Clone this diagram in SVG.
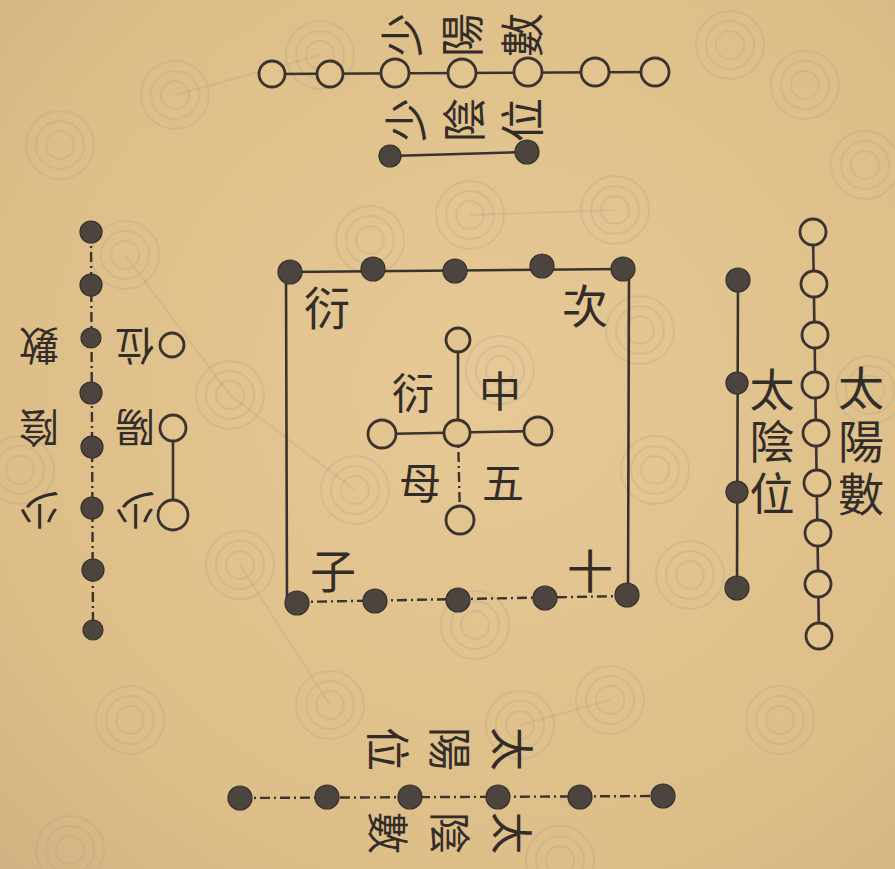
<svg xmlns="http://www.w3.org/2000/svg" width="895" height="869" viewBox="0 0 895 869">
<defs>
<radialGradient id="paper" cx="0.55" cy="0.45" r="0.8">
<stop offset="0" stop-color="#e6c996"/>
<stop offset="0.7" stop-color="#ddbe88"/>
<stop offset="1" stop-color="#cfb282"/>
</radialGradient>
<g id="ghost"><circle r="14"/><circle r="24"/><circle r="34"/></g>
</defs>
<style>
.ln{stroke:#3a332f;stroke-width:2.6;fill:none;stroke-linecap:round}
.dl{stroke:#3a332f;stroke-width:2.4;fill:none;stroke-dasharray:10 4 2 4}
.w{fill:#e2c48f;stroke:#3a332f;stroke-width:2.8}
.b{fill:#4b443f;stroke:#36302c;stroke-width:1.2}
.t{font-family:"Noto Sans CJK TC","Noto Sans CJK SC",serif;fill:#332d29;font-size:46px;text-anchor:middle;dominant-baseline:central}
.s{font-size:42px}
.v{writing-mode:vertical-rl}
.g{fill:none;stroke:#a99b86;stroke-opacity:.25;stroke-width:2}
</style>
<rect width="895" height="869" fill="url(#paper)"/>
<g id="show-through" class="g">
<use href="#ghost" x="175" y="95"/><use href="#ghost" x="60" y="145"/><use href="#ghost" x="320" y="55"/>
<use href="#ghost" x="730" y="45"/><use href="#ghost" x="805" y="85"/><use href="#ghost" x="865" y="165"/>
<use href="#ghost" x="470" y="215"/><use href="#ghost" x="615" y="210"/><use href="#ghost" x="125" y="255"/>
<use href="#ghost" x="370" y="240"/><use href="#ghost" x="230" y="395"/><use href="#ghost" x="355" y="490"/>
<use href="#ghost" x="500" y="370"/><use href="#ghost" x="655" y="470"/><use href="#ghost" x="640" y="330"/>
<use href="#ghost" x="240" y="565"/><use href="#ghost" x="475" y="625"/><use href="#ghost" x="690" y="575"/>
<use href="#ghost" x="130" y="720"/><use href="#ghost" x="330" y="705"/><use href="#ghost" x="520" y="725"/>
<use href="#ghost" x="610" y="700"/><use href="#ghost" x="780" y="720"/><use href="#ghost" x="70" y="850"/>
<use href="#ghost" x="560" y="860"/><use href="#ghost" x="20" y="470"/><use href="#ghost" x="870" y="390"/>
<path d="M175 95 L320 55 M470 215 L615 210 M230 395 L355 490 M240 565 L330 705 M520 725 L610 700 M125 255 L230 395"/>
</g>

<g id="connectors">
<line class="ln" x1="272" y1="74" x2="655" y2="72"/>
<line class="ln" x1="390" y1="156" x2="527" y2="152"/>
<line class="ln" x1="290" y1="272" x2="623" y2="269"/>
<line class="dl" x1="297" y1="602" x2="627" y2="596"/>
<line class="ln" x1="286" y1="272" x2="287" y2="603"/>
<line class="ln" x1="629" y1="270" x2="628" y2="596"/>
<line class="ln" x1="458" y1="340" x2="458" y2="432"/>
<line class="dl" x1="458" y1="432" x2="460" y2="520"/>
<line class="ln" x1="382" y1="434" x2="538" y2="431"/>
<line class="ln" x1="738" y1="280" x2="737" y2="588"/>
<line class="ln" x1="813" y1="232" x2="819" y2="636"/>
<line class="dl" x1="91" y1="232" x2="93" y2="630"/>
<line class="ln" x1="173" y1="428" x2="173" y2="515"/>
<line class="dl" x1="240" y1="798" x2="663" y2="796"/>
</g>

<g id="shaoyang-shu">
<circle class="w" cx="272" cy="74" r="13"/><circle class="w" cx="330" cy="74" r="13"/>
<circle class="w" cx="395" cy="73" r="14"/><circle class="w" cx="462" cy="73" r="14"/>
<circle class="w" cx="528" cy="72" r="14"/><circle class="w" cx="595" cy="72" r="14"/>
<circle class="w" cx="655" cy="72" r="14"/>
</g>
<g id="shaoyin-wei">
<circle class="b" cx="390" cy="156" r="11"/><circle class="b" cx="527" cy="152" r="12"/>
</g>
<g id="square">
<circle class="b" cx="290" cy="272" r="12"/><circle class="b" cx="373" cy="269" r="12"/>
<circle class="b" cx="455" cy="271" r="12"/><circle class="b" cx="542" cy="266" r="12"/>
<circle class="b" cx="623" cy="269" r="12"/>
<circle class="b" cx="297" cy="603" r="12"/><circle class="b" cx="375" cy="601" r="12"/>
<circle class="b" cx="458" cy="600" r="12"/><circle class="b" cx="545" cy="598" r="12"/>
<circle class="b" cx="627" cy="595" r="12"/>
</g>
<g id="center">
<circle class="w" cx="458" cy="340" r="12"/><circle class="w" cx="457" cy="433" r="13"/>
<circle class="w" cx="382" cy="434" r="14"/><circle class="w" cx="538" cy="431" r="14"/>
<circle class="w" cx="460" cy="520" r="14"/>
</g>
<g id="taiyin-wei">
<circle class="b" cx="738" cy="280" r="12"/><circle class="b" cx="737" cy="383" r="11"/>
<circle class="b" cx="737" cy="492" r="11"/><circle class="b" cx="737" cy="588" r="12"/>
</g>
<g id="taiyang-shu">
<circle class="w" cx="813" cy="232" r="13"/><circle class="w" cx="814" cy="284" r="13"/>
<circle class="w" cx="815" cy="335" r="13"/><circle class="w" cx="815" cy="385" r="13"/>
<circle class="w" cx="816" cy="433" r="13"/><circle class="w" cx="817" cy="483" r="13"/>
<circle class="w" cx="818" cy="533" r="13"/><circle class="w" cx="818" cy="584" r="13"/>
<circle class="w" cx="819" cy="636" r="13"/>
</g>
<g id="shaoyin-shu">
<circle class="b" cx="91" cy="232" r="11"/><circle class="b" cx="91" cy="285" r="11"/>
<circle class="b" cx="91" cy="338" r="10"/><circle class="b" cx="91" cy="393" r="11"/>
<circle class="b" cx="92" cy="447" r="11"/><circle class="b" cx="92" cy="508" r="11"/>
<circle class="b" cx="93" cy="570" r="11"/><circle class="b" cx="93" cy="630" r="10"/>
</g>
<g id="shaoyang-wei">
<circle class="w" cx="172" cy="345" r="12"/><circle class="w" cx="173" cy="428" r="13"/>
<circle class="w" cx="173" cy="515" r="15"/>
</g>
<g id="taiyin-shu">
<circle class="b" cx="240" cy="798" r="12"/><circle class="b" cx="327" cy="797" r="12"/>
<circle class="b" cx="410" cy="797" r="12"/><circle class="b" cx="498" cy="797" r="12"/>
<circle class="b" cx="580" cy="797" r="12"/><circle class="b" cx="663" cy="796" r="12"/>
</g>

<g id="labels" class="t">
<text id="lbl-shaoyang-shu" class="v" x="470" y="35" style="font-size:44px;letter-spacing:16px" transform="rotate(-90 470 35)">少陽數</text>
<text id="lbl-shaoyin-wei" class="v" x="471" y="120" style="font-size:44px;letter-spacing:14px" transform="rotate(-90 471 120)">少陰位</text>
<text id="lbl-taiyang-shu" class="v" x="861" y="444" style="letter-spacing:7px">太陽數</text>
<text id="lbl-taiyin-wei" class="v" x="772" y="445" style="font-size:45px;letter-spacing:7px">太陰位</text>
<text id="lbl-shaoyang-wei" class="v" x="135" y="407" style="font-size:40px;letter-spacing:42px" transform="rotate(180 135 407)">少陽位</text>
<text id="lbl-shaoyin-shu" class="v" x="39" y="407" style="font-size:40px;letter-spacing:42px" transform="rotate(180 39 407)">少陰數</text>
<text id="lbl-taiyang-wei" class="v" x="441" y="749" style="font-size:44px;letter-spacing:18px" transform="rotate(90 441 749)">太陽位</text>
<text id="lbl-taiyin-shu" class="v" x="440" y="833" style="font-size:42px;letter-spacing:20px" transform="rotate(90 440 833)">太陰數</text>
<g id="lbl-square">
<text x="327" y="305">衍</text><text x="585" y="303">次</text>
<text x="333" y="568">子</text><text x="590" y="568">十</text>
</g>
<g id="lbl-center" class="s">
<text x="413" y="390">衍</text><text x="500" y="388">中</text>
<text x="420" y="480">母</text><text x="503" y="480">五</text>
</g>
</g>
</svg>
